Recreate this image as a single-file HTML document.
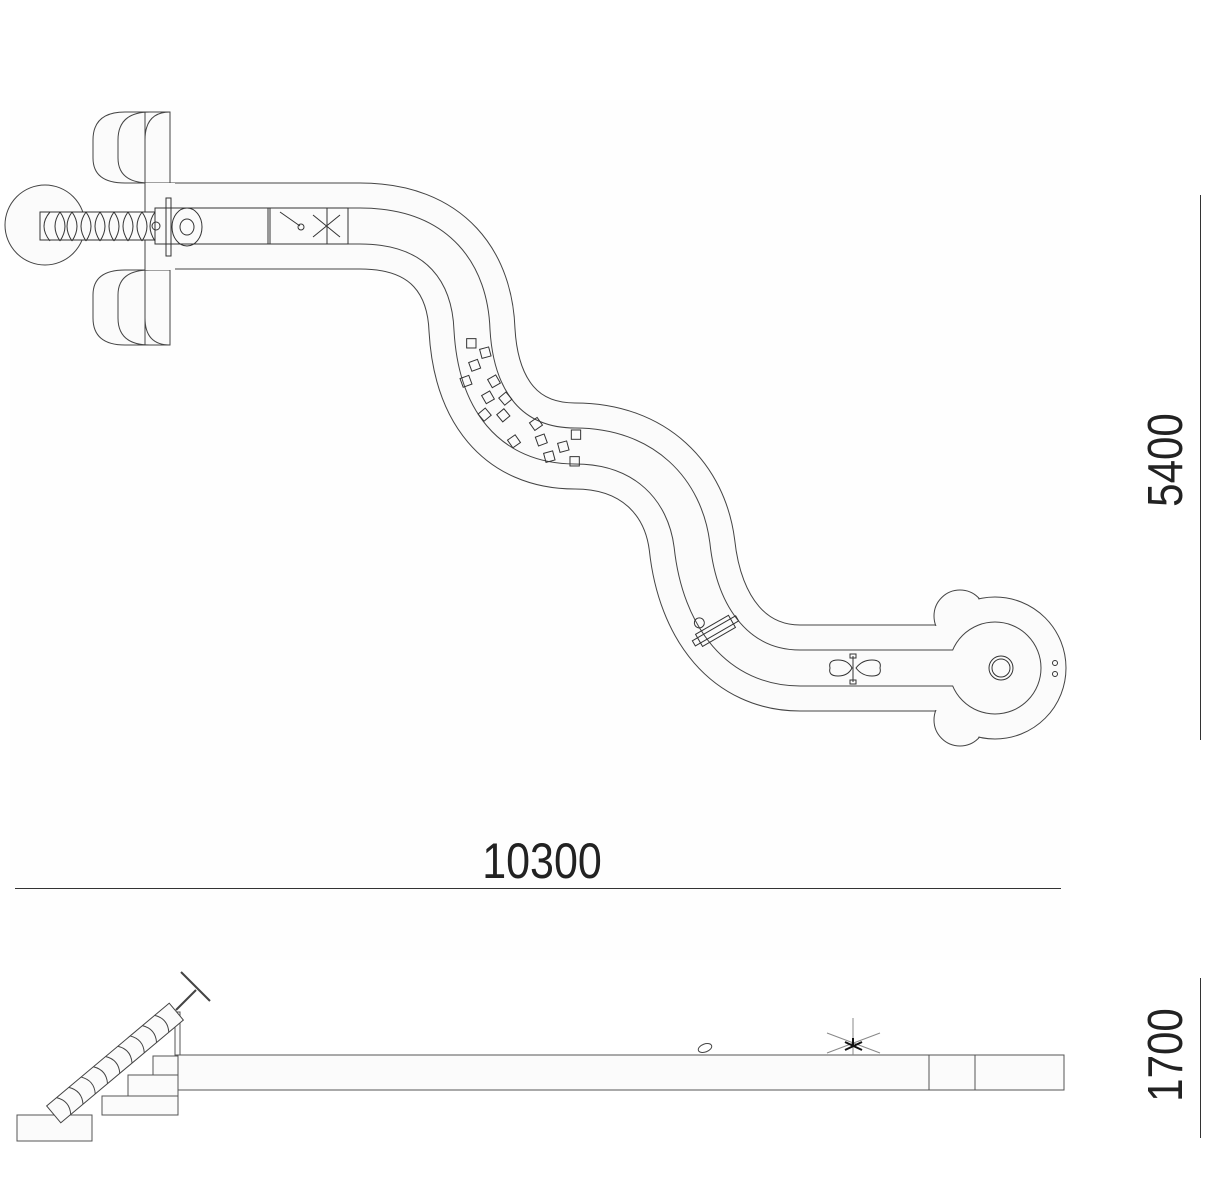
<!DOCTYPE html>
<html><head><meta charset="utf-8"><style>
html,body{margin:0;padding:0;background:#fff;}
svg{display:block}
text{font-family:"Liberation Sans",sans-serif;fill:#222}
</style></head><body>
<svg width="1211" height="1200" viewBox="0 0 1211 1200" xmlns="http://www.w3.org/2000/svg">
<rect x="0" y="0" width="1211" height="1200" fill="#fff"/>
<rect x="10" y="100" width="1060" height="860" fill="#fefefe"/>
<g fill="none" stroke="#444" stroke-width="1">
<path d="M170,112 L125,112 Q93,112 93,140 L93,158 Q93,183 125,183 L170,183 Z" fill="#fbfbfb"/>
<path d="M150,112 Q118,112 118,140 L118,158 Q118,183 150,183" />
<path d="M170,112 Q145,112 145,140 L145,183"/>
<path d="M170,270 L125,270 Q93,270 93,295 L93,318 Q93,345 125,345 L170,345 Z" fill="#fbfbfb"/>
<path d="M150,270 Q118,270 118,295 L118,318 Q118,345 150,345" />
<path d="M170,345 Q145,345 145,318 L145,270"/>
<circle cx="45" cy="225" r="40" fill="#fbfbfb"/>
</g>
<path d="M150,226 L360,226 C440,226 470,275 472,330 C476,400 510,446 575,446 C645,446 685,490 692,545 C700,620 740,668 800,668 L990,668" fill="none" stroke="#444" stroke-width="87"/>
<path d="M150,226 L360,226 C440,226 470,275 472,330 C476,400 510,446 575,446 C645,446 685,490 692,545 C700,620 740,668 800,668 L990,668" fill="none" stroke="#fbfbfb" stroke-width="85"/>
<circle cx="960" cy="616" r="26" fill="#fbfbfb" stroke="#444"/>
<circle cx="960" cy="720" r="26" fill="#fbfbfb" stroke="#444"/>
<circle cx="995" cy="668" r="71" fill="#fbfbfb" stroke="#444"/>
<rect x="900" y="626" width="80" height="84" fill="#fbfbfb"/>
<circle cx="960" cy="616" r="25" fill="#fbfbfb"/>
<circle cx="960" cy="720" r="25" fill="#fbfbfb"/>
<rect x="145" y="183" width="30" height="87" fill="#fbfbfb"/>
<path d="M145,112 L170,112 L170,183 M170,270 L170,345 L145,345" fill="none" stroke="#444"/>
<line x1="145" y1="112" x2="145" y2="345" stroke="#444"/>
<path d="M155,226 L360,226 C440,226 470,275 472,330 C476,400 510,446 575,446 C645,446 685,490 692,545 C700,620 740,668 800,668 L960,668" fill="none" stroke="#444" stroke-width="37"/>
<circle cx="995" cy="668" r="46" fill="#fbfbfb" stroke="#444"/>
<path d="M154,226 L360,226 C440,226 470,275 472,330 C476,400 510,446 575,446 C645,446 685,490 692,545 C700,620 740,668 800,668 L975,668" fill="none" stroke="#fbfbfb" stroke-width="35"/>
<g fill="none" stroke="#333" stroke-width="1">
<circle cx="1001" cy="668" r="12"/><circle cx="1001" cy="668" r="9"/>
<circle cx="1055" cy="663" r="2.5"/><circle cx="1055" cy="674" r="2.5"/>
<rect x="40" y="212" width="115" height="28" fill="#fbfbfb"/>
<path d="M50,212 Q38,226 50,241"/>
<path d="M60,212 Q50,226 60,241 M72,212 Q62,226 72,241 M86,212 Q76,226 86,241 M100,212 Q90,226 100,241 M114,212 Q104,226 114,241 M128,212 Q118,226 128,241 M142,212 Q132,226 142,241 M155,212 Q145,226 155,241"/>
<path d="M60,212 Q70,226 60,241 M72,212 Q82,226 72,241 M86,212 Q96,226 86,241 M100,212 Q110,226 100,241 M114,212 Q124,226 114,241 M128,212 Q138,226 128,241 M142,212 Q152,226 142,241"/>
<rect x="155" y="208" width="115" height="36"/>
<rect x="268" y="208" width="80" height="36"/>
<line x1="327" y1="208" x2="327" y2="244"/>
<line x1="313" y1="215" x2="340" y2="237"/><line x1="313" y1="237" x2="340" y2="215"/>
<line x1="280" y1="212" x2="300" y2="226"/><circle cx="301" cy="227" r="3"/>
<rect x="166" y="198" width="5" height="58"/>
<ellipse cx="187" cy="227" rx="15" ry="19"/><ellipse cx="187" cy="227" rx="7" ry="8"/>
<circle cx="156" cy="226" r="4"/>
<g transform="translate(400,180) scale(0.3333)" stroke-width="3">
<rect x="200" y="476" width="28" height="28"/>
<rect x="242" y="504" width="28" height="28" transform="rotate(-15 256 518)"/>
<rect x="210" y="542" width="28" height="28" transform="rotate(-20 224 556)"/>
<rect x="184" y="590" width="28" height="28" transform="rotate(-20 198 604)"/>
<rect x="268" y="590" width="28" height="28" transform="rotate(-30 282 604)"/>
<rect x="250" y="638" width="28" height="28" transform="rotate(-30 264 652)"/>
<rect x="302" y="642" width="28" height="28" transform="rotate(-40 316 656)"/>
<rect x="240" y="690" width="28" height="28" transform="rotate(-40 254 704)"/>
<rect x="296" y="692" width="28" height="28" transform="rotate(-40 310 706)"/>
<rect x="394" y="718" width="28" height="28" transform="rotate(-35 408 732)"/>
<rect x="328" y="770" width="28" height="28" transform="rotate(-35 342 784)"/>
<rect x="410" y="766" width="28" height="28" transform="rotate(-20 424 780)"/>
<rect x="476" y="786" width="28" height="28" transform="rotate(-15 490 800)"/>
<rect x="514" y="750" width="28" height="28"/>
<rect x="434" y="816" width="28" height="28" transform="rotate(-15 448 830)"/>
<rect x="510" y="830" width="28" height="28"/>
</g>
<g transform="rotate(-30 715 630)">
<rect x="696" y="624" width="38" height="14"/><rect x="690" y="628" width="50" height="6"/>
<circle cx="705" cy="616" r="5"/>
</g>
<path d="M830,668 Q828,660 838,660 Q848,660 852,668 Q848,676 838,676 Q828,676 830,668 Z"/>
<path d="M880,668 Q882,660 872,660 Q862,660 856,668 Q862,676 872,676 Q882,676 880,668 Z"/>
<line x1="853" y1="656" x2="853" y2="682"/>
<rect x="850" y="654" width="6" height="4"/><rect x="850" y="680" width="6" height="4"/>
</g>
<g fill="#fbfbfb" stroke="#555" stroke-width="1">
<rect x="178" y="1055" width="886" height="35"/>
<line x1="929" y1="1055" x2="929" y2="1090"/><line x1="975" y1="1055" x2="975" y2="1090"/>
<rect x="153" y="1056" width="25" height="19"/>
<rect x="128" y="1075" width="50" height="21"/>
<rect x="102" y="1096" width="76" height="19"/>
<rect x="17" y="1115" width="75" height="26"/>
<rect x="175" y="1012" width="5" height="43"/>
</g>
<g fill="none" stroke="#444" stroke-width="1">
<g transform="rotate(-40 115 1063)">
<rect x="35" y="1052" width="160" height="22" fill="#fbfbfb"/>
<path d="M48,1052 Q56,1063 48,1074 M64,1052 Q72,1063 64,1074 M80,1052 Q88,1063 80,1074 M96,1052 Q104,1063 96,1074 M112,1052 Q120,1063 112,1074 M128,1052 Q136,1063 128,1074 M144,1052 Q152,1063 144,1074 M160,1052 Q168,1063 160,1074 M176,1052 Q184,1063 176,1074"/>
</g>
<line x1="176" y1="1010" x2="196" y2="990" stroke-width="2"/>
<line x1="181" y1="972" x2="210" y2="1001" stroke-width="2"/>
<ellipse cx="705" cy="1048" rx="7" ry="4" transform="rotate(-20 705 1048)"/>
<g stroke="#888"><line x1="853" y1="1018" x2="853" y2="1055"/><line x1="827" y1="1033" x2="880" y2="1053"/><line x1="880" y1="1033" x2="827" y2="1053"/></g>
<g stroke="#111" stroke-width="2"><line x1="845" y1="1042" x2="862" y2="1050"/><line x1="862" y1="1042" x2="845" y2="1050"/><line x1="853" y1="1038" x2="853" y2="1046"/></g>
</g>
<line x1="15" y1="888.5" x2="1061" y2="888.5" stroke="#333" stroke-width="1"/>
<text x="542" y="878" font-size="50" text-anchor="middle" transform="translate(542 0) scale(0.86 1) translate(-542 0)">10300</text>
<line x1="1200.5" y1="195" x2="1200.5" y2="740" stroke="#333" stroke-width="1"/>
<text x="0" y="0" font-size="49" text-anchor="middle" transform="translate(1182 460) rotate(-90) scale(0.86 1)">5400</text>
<line x1="1200.5" y1="978" x2="1200.5" y2="1138" stroke="#333" stroke-width="1"/>
<text x="0" y="0" font-size="49" text-anchor="middle" transform="translate(1182 1055) rotate(-90) scale(0.86 1)">1700</text>
</svg>
</body></html>
